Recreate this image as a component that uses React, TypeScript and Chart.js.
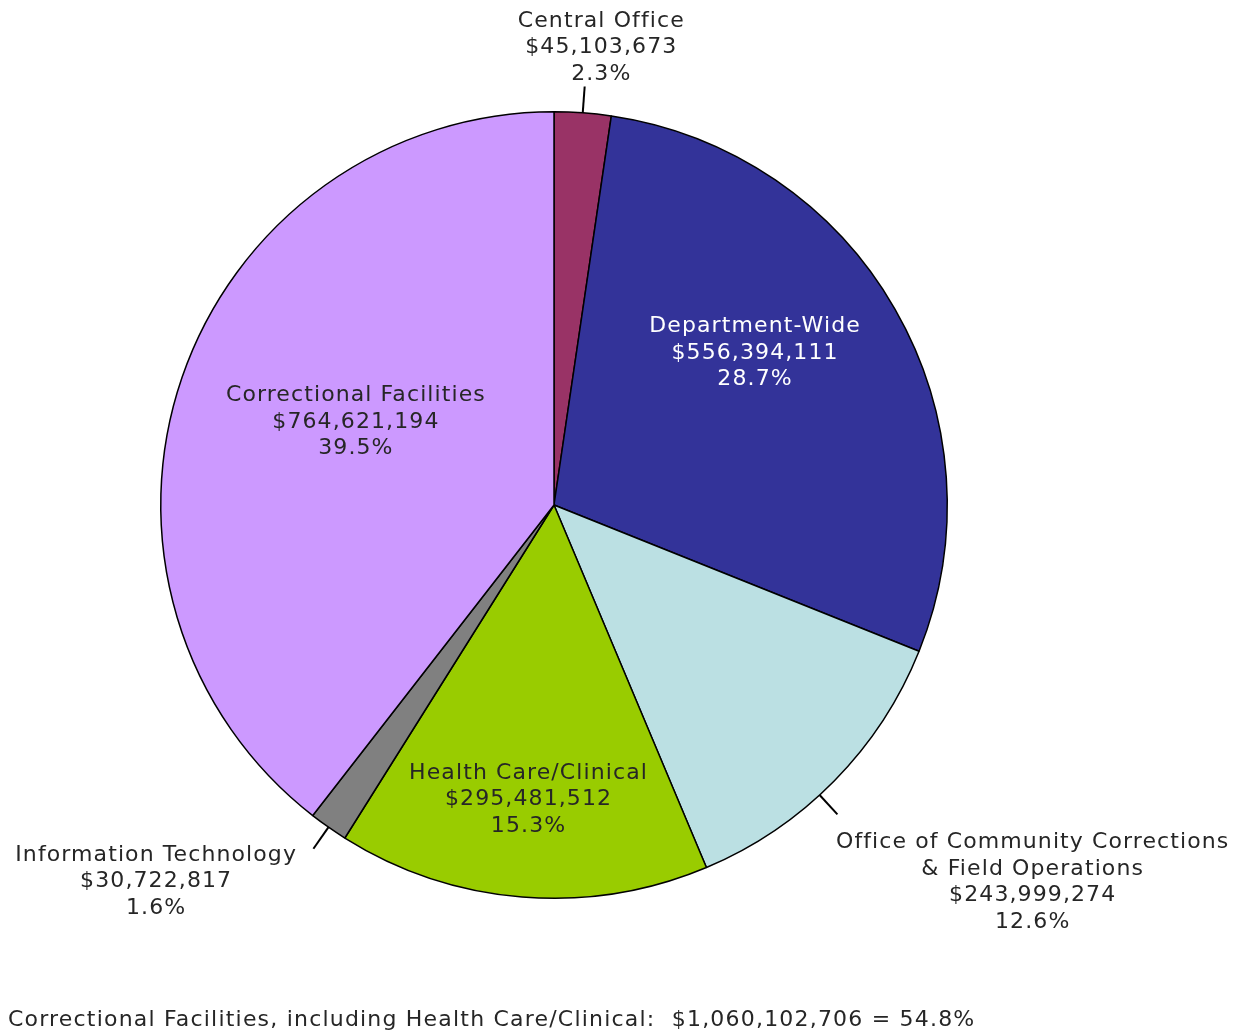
import React, { useEffect, useRef } from "react";
import { Chart, registerables } from "chart.js";

Chart.register(...registerables);

const categories = [
  "Central Office",
  "Department-Wide",
  "Office of Community Corrections\n& Field Operations",
  "Health Care/Clinical",
  "Information Technology",
  "Correctional Facilities",
];
const amounts = [45103673, 556394111, 243999274, 295481512, 30722817, 764621194];
const percentLabels = ["2.3%", "28.7%", "12.6%", "15.3%", "1.6%", "39.5%"];
const colors = ["#993366", "#333399", "#BBE0E3", "#99CC00", "#808080", "#CC99FF"];
const textColors = ["#262626", "#ffffff", "#262626", "#262626", "#262626", "#262626"];
// label centre offsets relative to pie centre, in units of radius
const labelDX = [0.119, 0.51, 1.216, -0.066, -1.013, -0.505];
const labelDY = [-1.168, -0.391, 0.954, 0.744, 0.952, -0.216];
// leader lines: null = no leader; value = angle offset (deg) from slice middle
const leaderOffsets: (number | null)[] = [0, null, 3, null, 0, null];
const footnote = "Correctional Facilities, including Health Care/Clinical:  $1,060,102,706 = 54.8%";

const fmt = (v: number) => "$" + v.toLocaleString("en-US");

const labelPlugin = {
  id: "sliceLabels",
  afterDatasetsDraw(chart: any) {
    const ctx = chart.ctx as CanvasRenderingContext2D;
    const meta = chart.getDatasetMeta(0);
    ctx.save();
    meta.data.forEach((arc: any, i: number) => {
      const { x, y, outerRadius, startAngle, endAngle } = arc.getProps(
        ["x", "y", "outerRadius", "startAngle", "endAngle"],
        true
      );
      const off = leaderOffsets[i];
      if (off !== null) {
        const a = (startAngle + endAngle) / 2 + (off * Math.PI) / 180;
        ctx.beginPath();
        ctx.strokeStyle = "#000";
        ctx.lineWidth = 2;
        ctx.moveTo(x + outerRadius * Math.cos(a), y + outerRadius * Math.sin(a));
        ctx.lineTo(x + outerRadius * 1.067 * Math.cos(a), y + outerRadius * 1.067 * Math.sin(a));
        ctx.stroke();
      }
      const lines = [...categories[i].split("\n"), fmt(amounts[i]), percentLabels[i]];
      const cx = x + labelDX[i] * outerRadius;
      const cy = y + labelDY[i] * outerRadius + 2;
      const lh = 26.5;
      ctx.font = '22px "DejaVu Sans"';
      (ctx as any).letterSpacing = "1.1px";
      ctx.fillStyle = textColors[i];
      ctx.textAlign = "center";
      ctx.textBaseline = "middle";
      const top = cy - ((lines.length - 1) * lh) / 2;
      lines.forEach((t, k) => ctx.fillText(t, cx + 0.5, top + k * lh));
    });
    (ctx as any).letterSpacing = "1.2px";
    ctx.font = '22px "DejaVu Sans"';
    ctx.fillStyle = "#262626";
    ctx.textAlign = "left";
    ctx.textBaseline = "middle";
    ctx.fillText(footnote, 8, 1020);
    ctx.restore();
  },
};

export default function App() {
  const ref = useRef<HTMLCanvasElement>(null);
  useEffect(() => {
    if (!ref.current) return;
    const chart = new Chart(ref.current, {
      type: "pie",
      data: {
        labels: categories,
        datasets: [
          {
            data: amounts,
            backgroundColor: colors,
            borderColor: "#000000",
            borderWidth: 1.5,
            hoverOffset: 0,
            offset: 0,
          },
        ],
      },
      options: {
        responsive: false,
        animation: false,
        events: [],
        layout: { padding: { left: 160, right: 292, top: 111, bottom: 135 } },
        plugins: { legend: { display: false }, tooltip: { enabled: false } },
      },
      plugins: [labelPlugin],
    });
    return () => chart.destroy();
  }, []);
  return (
    <div style={{ position: "fixed", left: 0, top: 0, width: 1240, height: 1034, background: "#fff" }}>
      <canvas ref={ref} width={1240} height={1034} />
    </div>
  );
}
